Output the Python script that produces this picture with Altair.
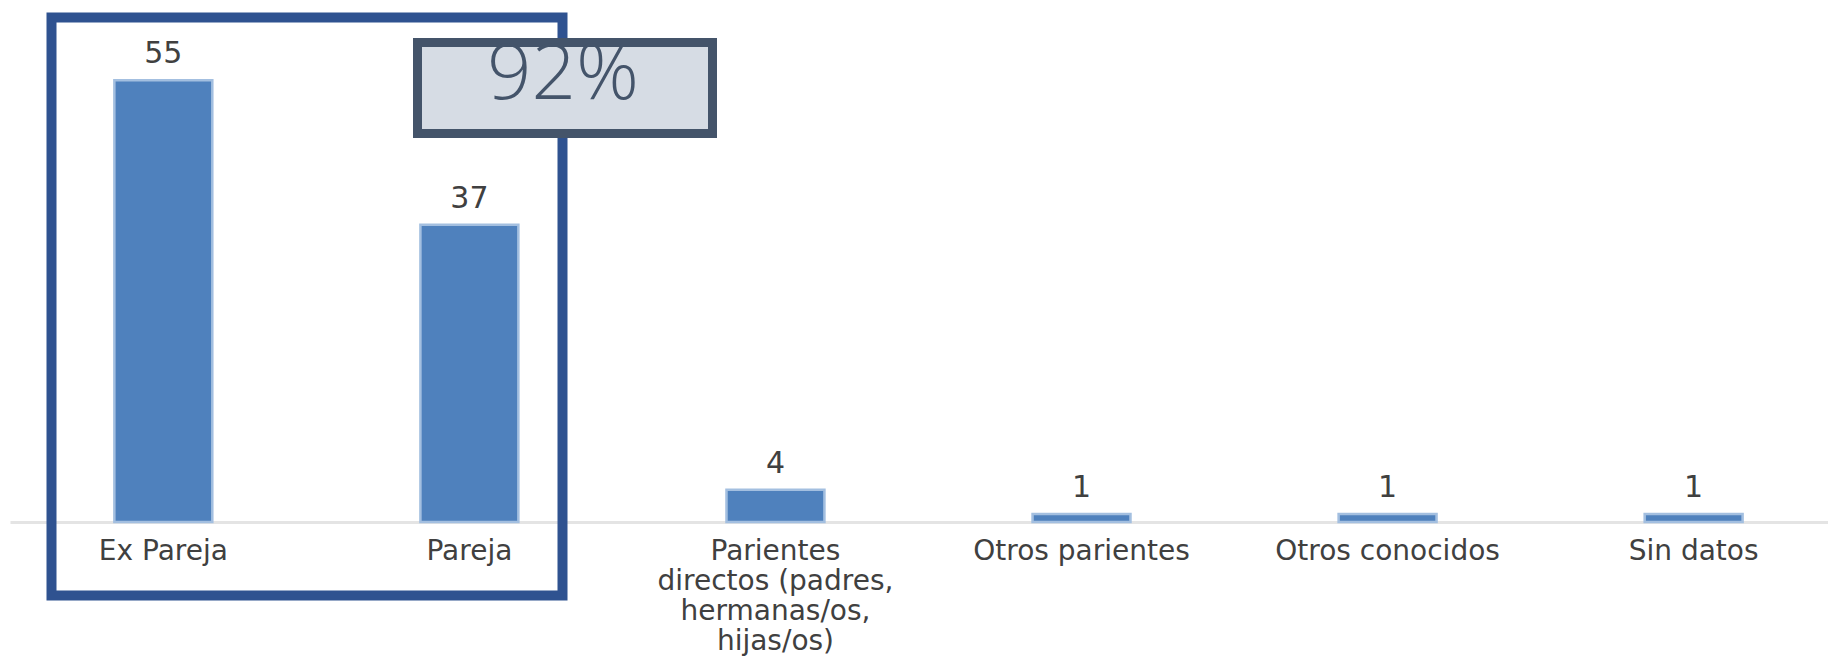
import altair as alt
import pandas as pd

categories = ["Ex Pareja", "Pareja", "Parientes\ndirectos (padres,\nhermanas/os,\nhijas/os)",
              "Otros parientes", "Otros conocidos", "Sin datos"]
values = [55, 37, 4, 1, 1, 1]
highlight_share = values[0] + values[1]  # 92

df = pd.DataFrame({"cat": categories, "val": values})

FONT = "DejaVu Sans"
BAR = "#4f81bd"
BAR_EDGE = "#a3bfe0"

x_scale = alt.Scale(paddingInner=0.68, paddingOuter=0.31, align=0.55)
y_scale = alt.Scale(domain=[0, 60])

x_enc = alt.X("cat:N", sort=categories, scale=x_scale,
              axis=alt.Axis(title=None, labelAngle=0, ticks=False, tickSize=0,
                            labelPadding=15, labelFont=FONT, labelFontSize=28,
                            labelColor="#404040", labelLimit=0, labelLineHeight=30,
                            labelExpr="split(datum.label, '\\n')",
                            domainColor="#e4e4e4", domainWidth=3, grid=False))
y_enc = alt.Y("val:Q", scale=y_scale, axis=None)

bars = alt.Chart(df).mark_bar(color=BAR, stroke=BAR_EDGE, strokeWidth=2.5).encode(
    x=x_enc, y=y_enc)

labels = alt.Chart(df).mark_text(baseline="alphabetic", dy=-17, font=FONT, fontSize=30,
                                 color="#404040").encode(
    x=alt.X("cat:N", sort=categories, scale=x_scale),
    y=y_enc, text="val:Q")

one = alt.Data(values=[{"share": f"{highlight_share}%"}])

big_box = alt.Chart(one).mark_rect(fill=None, stroke="#2f5290", strokeWidth=10).encode(
    x=alt.value(41.5), x2=alt.value(552.5), y=alt.value(-22.5), y2=alt.value(555.5))

share_box = alt.Chart(one).mark_rect(fill="#d6dce4", stroke="#44546a", strokeWidth=9).encode(
    x=alt.value(407.5), x2=alt.value(702.5), y=alt.value(2.5), y2=alt.value(93.5))

share_text = alt.Chart(one).mark_text(font="Open Sans", fontWeight=300, fontSize=78,
                                      color="#44546a", baseline="middle", align="center").encode(
    x=alt.value(553), y=alt.value(36), text="share:N")

chart = alt.layer(bars, labels, big_box, share_box, share_text).properties(
    width=1818, height=482,
    autosize=alt.AutoSizeParams(type="none"),
    padding={"left": 2, "top": 32, "right": 0, "bottom": 134},
    background="white",
).configure_view(stroke=None, strokeWidth=0)

chart.save("out.html", embed_options={"renderer": "svg", "actions": False})
